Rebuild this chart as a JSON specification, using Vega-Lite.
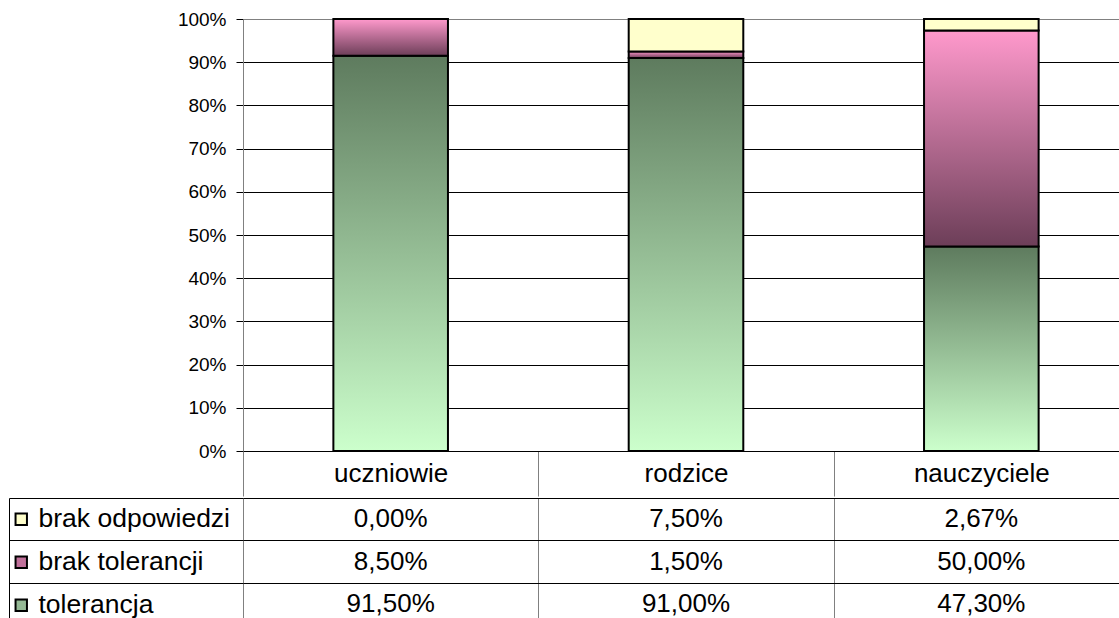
{
  "$schema": "https://vega.github.io/schema/vega-lite/v6.json",
  "padding": {"left": 8, "top": 10, "right": 0, "bottom": 0},
  "spacing": 0,
  "config": {
    "view": {"stroke": null},
    "font": "Liberation Sans",
    "locale": {"number": {"decimal": ",", "thousands": " ", "grouping": [3], "currency": ["", " zł"]}},
    "axis": {"labelFont": "Liberation Sans", "labelColor": "black"}
  },
  "data": {
    "values": [
      {"group": "uczniowie", "series": "tolerancja", "value": 0.915},
      {"group": "uczniowie", "series": "brak tolerancji", "value": 0.085},
      {"group": "uczniowie", "series": "brak odpowiedzi", "value": 0.0},
      {"group": "rodzice", "series": "tolerancja", "value": 0.91},
      {"group": "rodzice", "series": "brak tolerancji", "value": 0.015},
      {"group": "rodzice", "series": "brak odpowiedzi", "value": 0.075},
      {"group": "nauczyciele", "series": "tolerancja", "value": 0.473},
      {"group": "nauczyciele", "series": "brak tolerancji", "value": 0.5},
      {"group": "nauczyciele", "series": "brak odpowiedzi", "value": 0.0267}
    ]
  },
  "vconcat": [
    {
      "width": 886,
      "height": 432,
      "mark": {"type": "bar", "stroke": "black", "strokeWidth": 2, "width": {"band": 0.388}},
      "encoding": {
        "x": {
          "field": "group", "type": "nominal",
          "sort": ["uczniowie", "rodzice", "nauczyciele"],
          "scale": {"paddingInner": 0, "paddingOuter": 0},
          "title": null,
          "axis": {
            "orient": "bottom", "labelAngle": 0, "labelFontSize": 26, "labelColor": "black",
            "labelBaseline": "middle", "labelPadding": -22.5,
            "ticks": true, "tickBand": "extent", "tickSize": 45, "tickColor": "#808080",
            "domainColor": "black", "grid": false
          }
        },
        "y": {
          "field": "value", "type": "quantitative", "stack": "normalize",
          "scale": {"domain": [0, 1]},
          "title": null,
          "axis": {
            "values": [0, 0.1, 0.2, 0.3, 0.4, 0.5, 0.6, 0.7, 0.8, 0.9, 1],
            "format": ".0%", "labelFontSize": 19, "labelPadding": 10,
            "tickSize": 7, "tickColor": "black", "domainColor": "#808080",
            "grid": true,
            "gridColor": {"condition": {"test": "datum.value === 1", "value": "#808080"}, "value": "black"}
          }
        },
        "detail": {"field": "series", "type": "nominal"},
        "order": {"field": "series", "type": "nominal", "sort": "descending"},
        "fill": {
          "condition": [
            {"test": "datum.series === 'tolerancja'", "value": {"gradient": "linear", "x1": 0, "y1": 0, "x2": 0, "y2": 1, "stops": [{"offset": 0, "color": "#5E7B5E"}, {"offset": 1, "color": "#CCFFCC"}]}},
            {"test": "datum.series === 'brak tolerancji'", "value": {"gradient": "linear", "x1": 0, "y1": 0, "x2": 0, "y2": 1, "stops": [{"offset": 0, "color": "#FF99CC"}, {"offset": 1, "color": "#6C3E58"}]}}
          ],
          "value": "#FFFFCC"
        }
      }
    },
    {
      "width": 886,
      "height": 127,
      "encoding": {
        "x": {
          "field": "group", "type": "nominal",
          "sort": ["uczniowie", "rodzice", "nauczyciele"],
          "scale": {"paddingInner": 0, "paddingOuter": 0},
          "title": null,
          "axis": {"orient": "bottom", "labels": false, "ticks": false, "domain": false, "grid": true, "tickBand": "extent", "gridColor": "#808080"}
        },
        "y": {
          "field": "series", "type": "nominal",
          "sort": ["brak odpowiedzi", "brak tolerancji", "tolerancja"],
          "scale": {"paddingInner": 0, "paddingOuter": 0},
          "title": null,
          "axis": {"labels": false, "ticks": true, "tickSize": -234, "tickBand": "extent", "tickColor": "black", "offset": 234, "domain": true, "domainColor": "black", "grid": true, "gridColor": "black"}
        }
      },
      "layer": [
        {
          "mark": {"type": "text", "fontSize": 26, "font": "Liberation Sans", "color": "black", "baseline": "middle"},
          "encoding": {"text": {"field": "value", "type": "quantitative", "format": ".2%"}}
        },
        {
          "mark": {"type": "point", "shape": "square", "filled": true, "opacity": 0},
          "encoding": {
            "color": {
              "field": "series", "type": "nominal",
              "scale": {"domain": ["brak odpowiedzi", "brak tolerancji", "tolerancja"], "range": ["#FFFFCC", "#C0709A", "#95B995"]},
              "legend": {
                "title": null, "orient": "none", "legendX": -235, "legendY": 487,
                "symbolType": "square", "symbolSize": 130, "symbolStrokeWidth": 2, "symbolStrokeColor": "black",
                "symbolOpacity": 1, "labelFontSize": 26.5, "labelFont": "Liberation Sans", "labelColor": "black",
                "labelOffset": 4, "labelLimit": 0, "rowPadding": 16, "padding": 0,
                "encode": {
                  "symbols": {
                    "update": {
                      "fill": [
                        {"test": "datum.value === 'tolerancja'", "value": {"gradient": "linear", "x1": 0, "y1": 0, "x2": 0, "y2": 1, "stops": [{"offset": 0, "color": "#5E7B5E"}, {"offset": 1, "color": "#CCFFCC"}]}},
                        {"test": "datum.value === 'brak tolerancji'", "value": {"gradient": "linear", "x1": 0, "y1": 0, "x2": 0, "y2": 1, "stops": [{"offset": 0, "color": "#FF99CC"}, {"offset": 1, "color": "#6C3E58"}]}},
                        {"value": "#FFFFCC"}
                      ],
                      "opacity": {"value": 1},
                      "stroke": {"value": "black"}
                    }
                  }
                }
              }
            }
          }
        }
      ]
    }
  ]
}
